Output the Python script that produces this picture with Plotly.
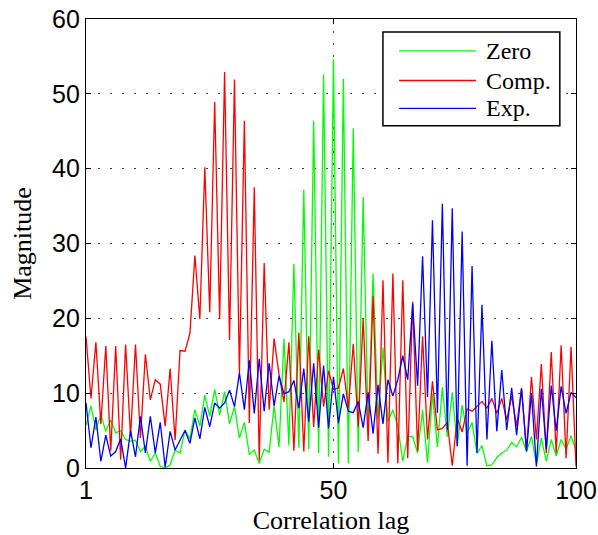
import plotly.graph_objects as go

# ---------------- data ----------------
lag_index = list(range(100))          # plotted positions; labelled 1 ... 100
x_tick_vals = [0, 50, 99]
x_tick_text = ["1", "50", "100"]
y_tick_vals = [0, 10, 20, 30, 40, 50, 60]

series_names = ["Zero", "Comp.", "Exp."]
series_colors = ["#00ff00", "#ff0000", "#0000ff"]

zero = [5.7, 8.3, 5.1, 7.1, 4.9, 6.4, 4.7, 5.0, 3.8, 3.6,
        3.7, 2.2, 2.9, 0.9, 2.0, 0.2, 0.0, 0.4, 2.4, 2.0,
        5.1, 3.9, 7.8, 5.6, 9.7, 6.9, 10.5, 7.1, 10.2, 5.9,
        8.2, 4.0, 6.1, 1.8, 2.4, 0.6, 2.5, 2.1, 8.3, 2.8,
        17.3, 3.0, 27.3, 2.7, 37.2, 2.5, 46.4, 2.0, 52.6, 1.5,
        54.6, 0.6, 52.0, 0.6, 45.4, 2.1, 36.2, 5.5, 26.0, 6.5,
        16.1, 6.2, 7.8, 5.6, 0.9, 4.2, 4.2, 2.0, 7.8, 0.7,
        9.9, 2.8, 10.8, 4.2, 10.1, 2.9, 8.4, 4.6, 6.1, 2.0,
        3.0, 0.3, 0.4, 1.4, 2.0, 2.4, 3.4, 2.8, 4.1, 2.2,
        4.2, 0.5, 4.0, 0.9, 3.8, 1.6, 3.8, 2.5, 4.3, 2.4]

comp = [17.6, 9.3, 16.8, 5.9, 16.3, 2.3, 16.3, 1.1, 16.5, 4.2,
        16.5, 4.0, 15.2, 9.1, 11.8, 11.2, 5.6, 13.3, 3.7, 15.7,
        15.6, 18.0, 28.4, 19.9, 40.2, 20.8, 48.9, 19.9, 52.9, 17.1,
        51.9, 12.7, 46.4, 6.0, 37.5, 1.0, 27.4, 7.8, 17.3, 12.5,
        8.8, 16.8, 2.3, 18.1, 2.2, 17.6, 5.5, 15.8, 8.2, 13.0,
        10.5, 10.7, 13.3, 8.0, 16.6, 5.5, 20.0, 3.6, 23.0, 1.9,
        25.1, 0.7, 26.0, 0.6, 25.1, 1.3, 22.2, 2.3, 17.6, 3.8,
        11.6, 5.1, 5.3, 6.1, 0.3, 6.7, 4.8, 7.9, 7.6, 8.2,
        8.9, 8.0, 9.3, 7.3, 9.3, 6.4, 9.6, 5.6, 10.7, 2.4,
        12.2, 3.8, 13.9, 2.0, 15.5, 2.0, 16.4, 1.3, 16.2, 0.2]

exp_ = [8.7, 2.7, 6.8, 0.9, 4.4, 1.6, 2.2, 3.9, 0.0, 5.0,
        1.5, 6.9, 2.0, 6.9, 2.0, 6.1, 0.1, 4.9, 2.4, 3.8,
        5.0, 3.3, 6.7, 3.9, 8.1, 5.5, 8.7, 8.0, 8.7, 10.4,
        8.2, 12.7, 7.8, 14.4, 7.3, 14.6, 7.6, 14.0, 8.3, 12.3,
        9.9, 10.2, 11.7, 8.0, 13.3, 6.2, 14.0, 5.4, 13.7, 5.3,
        12.2, 6.0, 9.9, 7.6, 7.4, 8.9, 5.4, 10.1, 4.6, 11.1,
        5.9, 11.8, 9.6, 11.8, 15.0, 11.8, 21.9, 11.0, 28.3, 9.5,
        33.1, 7.4, 35.3, 5.1, 34.7, 2.9, 31.6, 0.3, 27.0, 2.0,
        21.8, 3.8, 17.0, 4.9, 13.1, 5.1, 10.7, 4.4, 10.6, 2.2,
        10.0, 0.2, 10.6, 2.5, 11.0, 5.0, 10.9, 7.3, 10.1, 9.4]

series_values = [zero, comp, exp_]

# ---------------- figure ----------------
fig = go.Figure()
for name, color, vals in zip(series_names, series_colors, series_values):
    fig.add_trace(go.Scatter(x=lag_index, y=vals, mode="lines", name=name,
                             line=dict(color=color, width=1.3),
                             showlegend=False))

# manual MATLAB-style legend (box, sample lines, labels)
box_x0, box_x1, box_y0, box_y1 = 0.606, 0.967, 0.762, 0.971
row_y = [0.929, 0.863, 0.801]
shapes = [dict(type="rect", xref="paper", yref="paper",
               x0=box_x0, x1=box_x1, y0=box_y0, y1=box_y1,
               line=dict(color="black", width=1.5), fillcolor="white", layer="above")]
annotations = []
for name, color, ry in zip(series_names, series_colors, row_y):
    shapes.append(dict(type="line", xref="paper", yref="paper",
                       x0=0.639, x1=0.796, y0=ry, y1=ry,
                       line=dict(color=color, width=1.3), layer="above"))
    annotations.append(dict(xref="paper", yref="paper", x=0.812, y=ry,
                            text=name, showarrow=False, xanchor="left", yanchor="middle",
                            font=dict(family="Liberation Serif", size=24, color="black")))

fig.update_layout(
    width=598, height=535,
    margin=dict(l=86, r=22, t=19, b=67, pad=0),
    paper_bgcolor="white", plot_bgcolor="white",
    shapes=shapes, annotations=annotations,
    showlegend=False,
)

fig.update_xaxes(
    range=[0, 99], tickmode="array", tickvals=x_tick_vals, ticktext=x_tick_text,
    showline=True, linecolor="black", linewidth=1.2, mirror="ticks",
    ticks="inside", ticklen=5, tickcolor="black",
    showgrid=True, gridcolor="#444444", gridwidth=1, griddash="2px,10px",
    zeroline=False, automargin=False,
    tickfont=dict(family="Liberation Sans", size=25, color="black"),
    title=dict(text="Correlation lag", standoff=9,
               font=dict(family="Liberation Serif", size=26, color="black")),
)
fig.update_yaxes(
    range=[0, 60], tickmode="array", tickvals=y_tick_vals,
    showline=True, linecolor="black", linewidth=1.2, mirror="ticks",
    ticks="inside", ticklen=5, tickcolor="black",
    showgrid=True, gridcolor="#444444", gridwidth=1, griddash="2px,10px",
    zeroline=False, automargin=False,
    tickfont=dict(family="Liberation Sans", size=25, color="black"),
    title=dict(text="Magnitude", standoff=12,
               font=dict(family="Liberation Serif", size=26, color="black")),
)

fig.write_html("out.html")
